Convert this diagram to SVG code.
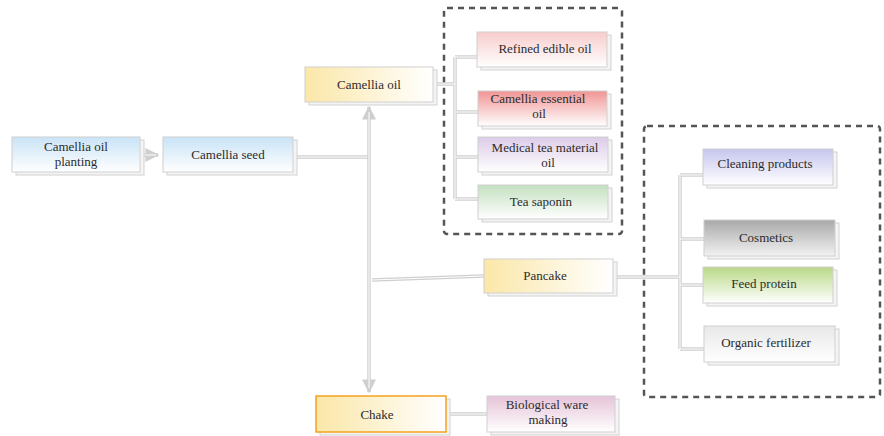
<svg xmlns="http://www.w3.org/2000/svg" width="884" height="436" viewBox="0 0 884 436">
<defs>
<linearGradient id="gBlue" x1="0" y1="0" x2="0" y2="1"><stop offset="0" stop-color="#c9e3f6"/><stop offset="1" stop-color="#ffffff"/></linearGradient>
<linearGradient id="gYel" x1="0" y1="0" x2="1" y2="0"><stop offset="0" stop-color="#fbe7a8"/><stop offset="1" stop-color="#ffffff"/></linearGradient>
<linearGradient id="gPinkL" x1="0" y1="0" x2="0" y2="1"><stop offset="0" stop-color="#f8cccc"/><stop offset="1" stop-color="#ffffff"/></linearGradient>
<linearGradient id="gRed" x1="0" y1="0" x2="0" y2="1"><stop offset="0" stop-color="#f19494"/><stop offset="1" stop-color="#ffffff"/></linearGradient>
<linearGradient id="gPurp" x1="0" y1="0" x2="0" y2="1"><stop offset="0" stop-color="#dccbe8"/><stop offset="1" stop-color="#ffffff"/></linearGradient>
<linearGradient id="gGreen" x1="0" y1="0" x2="0" y2="1"><stop offset="0" stop-color="#c4e0c0"/><stop offset="1" stop-color="#ffffff"/></linearGradient>
<linearGradient id="gLav" x1="0" y1="0" x2="0" y2="1"><stop offset="0" stop-color="#c6c6ee"/><stop offset="1" stop-color="#ffffff"/></linearGradient>
<linearGradient id="gGray" x1="0" y1="0" x2="0" y2="1"><stop offset="0" stop-color="#a9a9a9"/><stop offset="1" stop-color="#f2f2f2"/></linearGradient>
<linearGradient id="gLime" x1="0" y1="0" x2="0" y2="1"><stop offset="0" stop-color="#b9d886"/><stop offset="1" stop-color="#ffffff"/></linearGradient>
<linearGradient id="gLGray" x1="0" y1="0" x2="0" y2="1"><stop offset="0" stop-color="#e8e8e8"/><stop offset="1" stop-color="#ffffff"/></linearGradient>
<linearGradient id="gMauve" x1="0" y1="0" x2="0" y2="1"><stop offset="0" stop-color="#e6c3d8"/><stop offset="1" stop-color="#ffffff"/></linearGradient>
<marker id="ah" viewBox="0 0 10 10" refX="9" refY="5" markerWidth="4" markerHeight="4" orient="auto" markerUnits="strokeWidth"><path d="M0,0 L10,5 L0,10 z" fill="#cfcfcf"/></marker>
</defs>
<style>
text{font-family:"Liberation Serif","DejaVu Serif",serif;font-size:13px;fill:#2b2b2b;text-anchor:middle}
.sh{fill:#f4f4f4;stroke:#d2d2d2;stroke-width:1}
.bx{stroke:#d0d0d0;stroke-width:1}
.ln{fill:none;stroke:#cfcfcf;stroke-width:3.5}
.li{fill:none;stroke:#ffffff;stroke-width:1}
.dash{fill:none;stroke:#555;stroke-width:2.5;stroke-dasharray:6,5}
</style>
<rect width="884" height="436" fill="#ffffff"/>
<g id="groups">
<rect class="dash" x="444" y="8" width="178" height="226" rx="3"/>
<rect class="dash" x="644" y="126" width="236" height="271" rx="3"/>
</g>
<g id="connectors">
<path class="ln" d="M140,155 H158" marker-end="url(#ah)"/>
<path class="li" d="M140,155 H156"/>
<path class="ln" d="M293,157 H370"/>
<path class="li" d="M293,157 H370"/>
<path class="ln" d="M369,160 V107" marker-end="url(#ah)"/>
<path class="ln" d="M369,160 V392" marker-end="url(#ah)"/>
<path class="li" d="M369,112 V388"/>
<path class="ln" d="M372,280 L484,276"/>
<path class="li" d="M372,280 L484,276"/>
<path class="ln" d="M433,84 H455 M455,57 V199 M455,57 H478 M455,112 H478 M455,157 H478 M455,199 H478"/>
<path class="li" d="M433,84 H455 M455,57 V199 M455,57 H478 M455,112 H478 M455,157 H478 M455,199 H478"/>
<path class="ln" d="M613,277 H680 M680,175 V349 M680,175 H703 M680,239 H704 M680,285 H703 M680,349 H704"/>
<path class="li" d="M613,277 H680 M680,175 V349 M680,175 H703 M680,239 H704 M680,285 H703 M680,349 H704"/>
<path class="ln" d="M446,414 H487"/>
<path class="li" d="M446,414 H487"/>
</g>
<g id="n-planting"><rect class="sh" x="16" y="140" width="128" height="35"/><rect class="bx" x="12" y="137" width="128" height="35" fill="url(#gBlue)"/><text x="76" y="151">Camellia oil</text><text x="76" y="166">planting</text></g>
<g id="n-seed"><rect class="sh" x="167" y="140" width="130" height="35"/><rect class="bx" x="163" y="137" width="130" height="35" fill="url(#gBlue)"/><text x="228" y="159">Camellia seed</text></g>
<g id="n-oil"><rect class="sh" x="309" y="70" width="128" height="35"/><rect class="bx" x="305" y="67" width="128" height="35" fill="url(#gYel)"/><text x="369" y="89">Camellia oil</text></g>
<g id="n-refined"><rect class="sh" x="481" y="35" width="130" height="35"/><rect class="bx" x="477" y="32" width="130" height="35" fill="url(#gPinkL)"/><text x="545" y="53">Refined edible oil</text></g>
<g id="n-essential"><rect class="sh" x="482" y="94" width="129" height="35"/><rect class="bx" x="478" y="91" width="129" height="35" fill="url(#gRed)"/><text x="538" y="103">Camellia essential</text><text x="539" y="118">oil</text></g>
<g id="n-medical"><rect class="sh" x="482" y="140" width="130" height="35"/><rect class="bx" x="478" y="137" width="130" height="35" fill="url(#gPurp)"/><text x="545" y="152">Medical tea material</text><text x="548" y="167">oil</text></g>
<g id="n-saponin"><rect class="sh" x="482" y="188" width="130" height="34"/><rect class="bx" x="478" y="185" width="130" height="34" fill="url(#gGreen)"/><text x="541" y="206">Tea saponin</text></g>
<g id="n-pancake"><rect class="sh" x="488" y="262" width="129" height="34"/><rect class="bx" x="484" y="259" width="129" height="34" fill="url(#gYel)"/><text x="545" y="280">Pancake</text></g>
<g id="n-chake"><rect class="sh" x="320" y="399" width="130" height="36"/><rect x="316" y="396" width="130" height="36" fill="url(#gYel)" stroke="#f3a31e" stroke-width="1.5"/><text x="377" y="419">Chake</text></g>
<g id="n-bio"><rect class="sh" x="491" y="399" width="128" height="36"/><rect class="bx" x="487" y="396" width="128" height="36" fill="url(#gMauve)"/><text x="547" y="409">Biological ware</text><text x="548" y="424">making</text></g>
<g id="n-cleaning"><rect class="sh" x="707" y="152" width="130" height="36"/><rect class="bx" x="703" y="149" width="130" height="36" fill="url(#gLav)"/><text x="765" y="168">Cleaning products</text></g>
<g id="n-cosmetics"><rect class="sh" x="708" y="223" width="131" height="36"/><rect class="bx" x="704" y="220" width="131" height="36" fill="url(#gGray)"/><text x="766" y="242">Cosmetics</text></g>
<g id="n-feed"><rect class="sh" x="707" y="270" width="130" height="36"/><rect class="bx" x="703" y="267" width="130" height="36" fill="url(#gLime)"/><text x="764" y="288">Feed protein</text></g>
<g id="n-organic"><rect class="sh" x="708" y="329" width="131" height="36"/><rect class="bx" x="704" y="326" width="131" height="36" fill="url(#gLGray)"/><text x="766" y="347">Organic fertilizer</text></g>
</svg>
